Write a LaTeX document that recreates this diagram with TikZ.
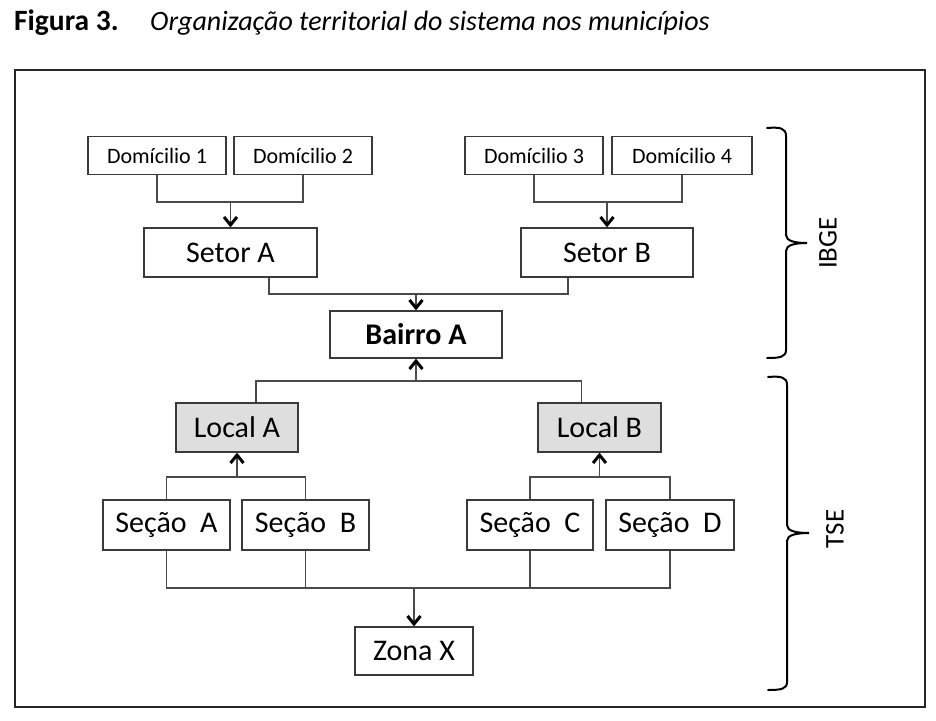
\documentclass[tikz,border=0pt]{standalone}
\usepackage{fontspec}
\setmainfont{Carlito}
\usetikzlibrary{arrows.meta}
\definecolor{boxline}{HTML}{3A3A3A}
\definecolor{connline}{HTML}{4A4A4A}
\definecolor{localfill}{HTML}{DEDEDE}
\tikzset{
  x=1pt, y=-1pt,
  box/.style={draw=boxline, line width=1.3pt, fill=white, rectangle, inner sep=0pt, minimum height=49pt, font=\fontsize{30}{30}\selectfont},
  dombox/.style={box, minimum height=37.6pt, minimum width=138pt, font=\fontsize{22}{22}\selectfont},
  localbox/.style={box, fill=localfill},
  conn/.style={draw=connline, line width=1.3pt},
  arr/.style={draw=connline, line width=1.3pt, -{Straight Barb[length=8pt,width=13pt,line width=3pt,color=black]}},
  bracepath/.style={draw=black, line width=2pt, line cap=round},
  bracelabel/.style={rotate=90, font=\fontsize{27}{27}\selectfont}
}
\begin{document}
\begin{tikzpicture}
\useasboundingbox (0,0) rectangle (936,720);
\fill[white] (0,0) rectangle (936,720);
% title
\node[anchor=base west, inner sep=0pt, font=\fontsize{29.5}{30}\selectfont\bfseries] (figlabel) at (14,30) {Figura 3.};
\node[anchor=base west, inner sep=0pt, font=\fontsize{28}{28}\selectfont\itshape] (figtitle) at (150,30) {Organização territorial do sistema nos municípios};
% frame
\draw[line width=2pt, draw=black!85] (15,70) rectangle (925,707);
% IBGE level
\node[dombox] (d1) at (157,155.5) {Domícilio 1};
\node[dombox] (d2) at (303,155.5) {Domícilio 2};
\node[dombox] (d3) at (534,155.5) {Domícilio 3};
\node[dombox, minimum width=140pt] (d4) at (682,155.5) {Domícilio 4};
\node[box, minimum width=173pt] (sa) at (230.5,252.5) {Setor A};
\node[box, minimum width=172pt] (sb) at (607,252.5) {Setor B};
\node[box, minimum width=172pt, minimum height=47pt, font=\fontsize{30}{30}\selectfont\bfseries] (ba) at (416,334.5) {Bairro A};
% TSE level
\node[localbox, minimum width=122pt] (la) at (237,427.5) {Local A};
\node[localbox, minimum width=123pt] (lb) at (599.5,427.5) {Local B};
\node[box, minimum width=127pt, minimum height=50pt] (sca) at (166.5,525) {Seção\ \ A};
\node[box, minimum width=127pt, minimum height=50pt] (scb) at (305.5,525) {Seção\ \ B};
\node[box, minimum width=126pt, minimum height=50pt] (scc) at (530,525) {Seção\ \ C};
\node[box, minimum width=128pt, minimum height=50pt] (scd) at (670,525) {Seção\ \ D};
\node[box, minimum width=118pt, minimum height=48pt] (zx) at (414,651) {Zona X};
% helper levels
\coordinate (yA) at (0,202);
\coordinate (yB) at (0,294);
\coordinate (yC) at (0,381);
\coordinate (yD) at (0,477);
\coordinate (yE) at (0,588);
% domicilio -> setor
\coordinate (j1) at (sa.north |- yA);
\draw[conn] (d1.south) |- (j1) -| (d2.south);
\draw[arr] (j1) -- (sa.north);
\coordinate (j2) at (sb.north |- yA);
\draw[conn] (d3.south) |- (j2) -| (d4.south);
\draw[arr] (j2) -- (sb.north);
% setor -> bairro
\coordinate (j3) at (ba.north |- yB);
\draw[conn] ([xshift=38.5pt]sa.south) |- (j3) -| ([xshift=-39pt]sb.south);
\draw[arr] (j3) -- (ba.north);
% local -> bairro
\coordinate (j4) at (ba.south |- yC);
\draw[conn] ([xshift=19pt]la.north) |- (j4) -| ([xshift=-18pt]lb.north);
\draw[arr] (j4) -- (ba.south);
% secao -> local
\coordinate (j5) at (la.south |- yD);
\draw[conn] (sca.north) |- (j5) -| (scb.north);
\draw[arr] (j5) -- (la.south);
\coordinate (j6) at (lb.south |- yD);
\draw[conn] (scc.north) |- (j6) -| (scd.north);
\draw[arr] (j6) -- (lb.south);
% secao -> zona
\coordinate (j7) at (zx.north |- yE);
\draw[conn] (sca.south) |- (j7) -| (scd.south);
\draw[conn] (scb.south) -- (scb.south |- yE);
\draw[conn] (scc.south) -- (scc.south |- yE);
\draw[arr] (j7) -- (zx.north);
% braces
\draw[bracepath] (767,128) .. controls (780,127) and (786,128) .. (786,136) -- (786,235)
  .. controls (786,241) and (795,243) .. (807,243)
  .. controls (795,243) and (786,245) .. (786,251) -- (786,350)
  .. controls (786,357) and (780,358) .. (767,358);
\node[bracelabel] (ibge) at (828,243) {IBGE};
\draw[bracepath] (768,377) .. controls (781,376) and (787,377) .. (787,385) -- (787,525)
  .. controls (787,531) and (796,533) .. (809,533)
  .. controls (796,533) and (787,535) .. (787,541) -- (787,682)
  .. controls (787,689) and (781,690) .. (768,690);
\node[bracelabel] (tse) at (835,529) {TSE};
\end{tikzpicture}
\end{document}
